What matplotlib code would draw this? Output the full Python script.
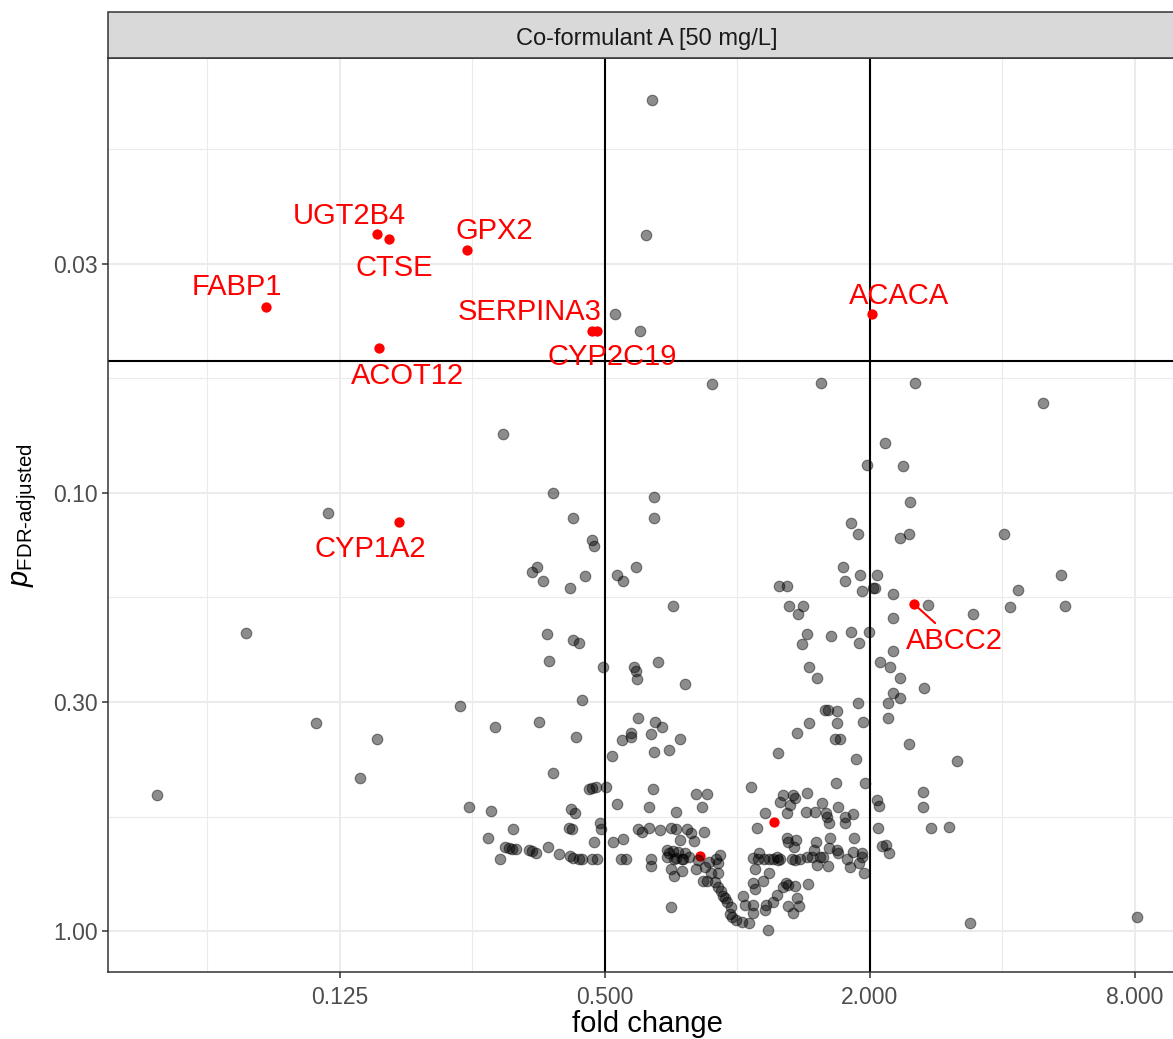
import numpy as np
import matplotlib
matplotlib.use("Agg")
import matplotlib.pyplot as plt
from matplotlib.patches import Rectangle
from matplotlib.ticker import NullFormatter

plt.rcParams['font.family'] = ['Liberation Sans', 'DejaVu Sans']
plt.rcParams['mathtext.fontset'] = 'custom'
plt.rcParams['mathtext.rm'] = 'Liberation Sans'
plt.rcParams['mathtext.it'] = 'Liberation Sans:italic'
plt.rcParams['mathtext.bf'] = 'Liberation Sans:bold'

# ---------------- data ----------------
panel_title = "Co-formulant A [50 mg/L]"
x_title = "fold change"
y_title = r"$p_{\mathrm{FDR}\text{-}\mathrm{adjusted}}$"
x_breaks = [0.125, 0.5, 2.0, 8.0]
x_labels = ["0.125", "0.500", "2.000", "8.000"]
y_breaks = [0.03, 0.10, 0.30, 1.00]
y_labels = ["0.03", "0.10", "0.30", "1.00"]
fc_cutoffs = [0.5, 2.0]
p_cutoff = 0.05

# all genes: log2(fold change) and -log10(p adjusted)
gray_log2fc = [
    -4.379, -3.707, -3.087, -3.178, -2.717, -2.846,
    -0.639, -0.685, -0.919, -0.737,
    -0.193, 0.630, 1.340, 2.308, -1.765, 1.114, 0.978, 1.250, -1.387, -0.624,
    1.303, -1.236, -0.624, 0.857, 0.910, 1.227, 1.295, 2.013, -1.093, -1.077,
    -1.546, -1.508, -1.463, -1.145, -1.259, -1.433, -1.236, -1.191,
    -0.904, -0.858, -0.760, -0.488, -1.009, -0.775, -0.760, -0.753, -0.601, -0.397,
    -0.745, -0.617, -0.571, -0.805, -0.798, -0.866, -0.647, -0.435, -0.941, -0.624, -0.518,
    -1.418, -1.168, -2.090, -1.826, -1.493, -1.214, -1.387, -1.115, -1.093, -1.062,
    -2.022, -1.856, -1.251, -1.221, -1.266, -1.244, -1.690, -1.878, -1.750, -1.720,
    -1.697, -1.667, -1.569, -1.546, -1.516, -1.425, -1.342, -1.259, -1.236, -1.191,
    -1.168, -1.093, -1.055, -1.788, -1.077, -1.032, -1.025,
    -0.987, -0.632, -0.314, -0.231, -0.904, -0.669, -0.269, -0.458, -0.745, -0.715,
    -0.669, -0.579, -0.503, -0.465, -0.375, -0.352, -0.329, -0.254, -0.428, -0.934,
    -0.858, -0.873, -0.836, -0.654, -0.647,
    -0.533, -0.518, -0.488, -0.465, -0.443, -0.420, -0.397, -0.367, -0.526, -0.473,
    -0.405, -0.496, -0.473, -0.413, -0.314, -0.239, -0.201, -0.209, -0.148, -0.141,
    -0.261, -0.224, -0.163, -0.133, -0.292,
    -0.171, -0.148, -0.125, -0.110, -0.095, -0.080, -0.050, -0.057, -0.042, -0.012,
    0.033, 0.086, -0.496,
    0.101, 0.744, 0.963, 0.524, 0.343, 0.419, 0.320, 0.396, 0.434, 0.638,
    0.759, 0.207, 0.373, 0.517, 0.585, 0.668, 0.676, 0.691, 0.812, 0.872,
    0.812, 0.147, 0.373, 0.381, 0.441, 0.426, 0.592, 0.577, 0.698, 0.691,
    0.880, 0.751, 0.759, 0.872, 0.940, 0.940, 0.162, 0.116, 0.154, 0.199,
    0.237, 0.267, 0.298, 0.305, 0.320, 0.411, 0.434, 0.471, 0.524, 0.562,
    0.623, 0.645, 0.600, 0.683, 0.827, 0.849, 0.917, 0.955, 0.131, 0.237,
    0.116, 0.192, 0.131, 0.298, 0.366, 0.381, 0.434, 0.343, 0.532, 0.041,
    0.056, 0.116, 0.116, 0.215, 0.207, 0.267, 0.381, 0.419, 0.449, 0.464,
    0.230,
    1.053, 1.068, 1.061, 1.401, 1.401, 1.461, 1.597, 1.091, 1.121, 1.144,
    0.796, 0.925, 1.053, 0.812, 0.313, 0.373, 0.940, 1.023, 1.038, 1.174,
    1.439, 0.388, 0.494, 0.456, 1.174, 0.524, 0.487, 0.706, 0.857, 0.917,
    0.993, 1.174, 1.076, 1.152, 0.539, 0.600, 1.227, 1.408, 1.174, 1.227,
    1.136, 0.910, 0.660, 0.683, 0.751, 0.539, 0.751, 0.948, 1.136, 0.449,
    0.736, 0.774, 0.305, 1.295, 0.895, 1.658,
    2.444, 2.119, 2.058, 1.779, 2.474, 1.756, 3.018,
]
gray_nlog10p = [
    0.310, 0.680, 0.954, 0.475, 0.438, 0.349,
    1.897, 1.589, 1.409, 1.368,
    1.249, 1.251, 1.251, 1.205, 1.135, 1.114, 1.064, 1.062, 1.000, 0.991,
    0.979, 0.943, 0.943, 0.931, 0.906, 0.897, 0.906, 0.906, 0.893, 0.879,
    0.820, 0.831, 0.799, 0.810, 0.783, 0.678, 0.664, 0.658,
    0.813, 0.799, 0.831, 0.742, 0.603, 0.603, 0.594, 0.575, 0.614, 0.564,
    0.486, 0.477, 0.466, 0.452, 0.443, 0.436, 0.450, 0.438, 0.400, 0.409, 0.413,
    0.616, 0.527, 0.514, 0.466, 0.477, 0.443, 0.361, 0.324, 0.326, 0.329,
    0.283, 0.274, 0.279, 0.269, 0.235, 0.233, 0.233, 0.212, 0.192, 0.189,
    0.187, 0.187, 0.185, 0.183, 0.178, 0.192, 0.176, 0.171, 0.167, 0.164,
    0.164, 0.164, 0.164, 0.164, 0.203, 0.247, 0.233,
    0.329, 0.324, 0.313, 0.313, 0.290, 0.283, 0.283, 0.272, 0.233, 0.226,
    0.235, 0.231, 0.235, 0.233, 0.233, 0.224, 0.205, 0.226, 0.208, 0.203,
    0.210, 0.164, 0.164, 0.164, 0.148,
    0.185, 0.178, 0.183, 0.167, 0.180, 0.164, 0.178, 0.169, 0.169, 0.164,
    0.164, 0.142, 0.126, 0.137, 0.142, 0.146, 0.132, 0.158, 0.155, 0.132,
    0.114, 0.114, 0.164, 0.174, 0.162,
    0.112, 0.100, 0.091, 0.080, 0.075, 0.066, 0.055, 0.039, 0.032, 0.025,
    0.021, 0.018, 0.055,
    0.329, 0.338, 0.338, 0.315, 0.311, 0.311, 0.295, 0.288, 0.304, 0.292,
    0.283, 0.269, 0.269, 0.272, 0.272, 0.269, 0.260, 0.247, 0.260, 0.267,
    0.247, 0.235, 0.212, 0.203, 0.208, 0.192, 0.203, 0.185, 0.212, 0.189,
    0.212, 0.185, 0.178, 0.180, 0.178, 0.169, 0.178, 0.167, 0.164, 0.164,
    0.164, 0.164, 0.169, 0.162, 0.164, 0.164, 0.162, 0.164, 0.169, 0.169,
    0.169, 0.169, 0.151, 0.148, 0.164, 0.146, 0.155, 0.132, 0.142, 0.132,
    0.110, 0.114, 0.096, 0.082, 0.110, 0.105, 0.103, 0.100, 0.107, 0.080,
    0.059, 0.059, 0.041, 0.059, 0.048, 0.066, 0.057, 0.041, 0.075, 0.057,
    0.002,
    0.299, 0.285, 0.235, 0.317, 0.283, 0.235, 0.237, 0.194, 0.196, 0.178,
    0.831, 0.813, 0.813, 0.799, 0.788, 0.788, 0.776, 0.783, 0.783, 0.769,
    0.744, 0.742, 0.742, 0.724, 0.715, 0.678, 0.655, 0.673, 0.683, 0.658,
    0.683, 0.639, 0.614, 0.603, 0.603, 0.578, 0.578, 0.555, 0.543, 0.532,
    0.521, 0.521, 0.505, 0.505, 0.502, 0.475, 0.475, 0.477, 0.486, 0.452,
    0.438, 0.438, 0.406, 0.427, 0.393, 0.388,
    0.813, 0.779, 0.740, 0.724, 0.742, 0.018, 0.032,
]

# highlighted genes
hl_genes = ["FABP1", "UGT2B4", "CTSE", "GPX2", "ACOT12",
            "SERPINA3", "CYP2C19", "ACACA", "CYP1A2", "ABCC2"]
hl_log2fc = [-3.556, -2.717, -2.626, -2.037, -2.702,
             -1.093, -1.055, 1.016, -2.551, 1.333]
hl_nlog10p = [1.425, 1.591, 1.578, 1.555, 1.331,
              1.370, 1.370, 1.409, 0.934, 0.747]
# highlighted genes without label
hl2_log2fc = [0.275, -0.277]
hl2_nlog10p = [0.249, 0.171]

# label placement (offset in pixels from point, y up)
label_offsets = {
    "FABP1": (-29, 19.5), "UGT2B4": (-27.5, 18), "CTSE": (5, -28.5),
    "GPX2": (27, 18.5), "ACOT12": (28, -28), "SERPINA3": (-63, 19),
    "CYP2C19": (15, -26), "ACACA": (27.5, 18), "CYP1A2": (-28.5, -27.5),
    "ABCC2": (41, -37),
}

assert len(gray_log2fc) == len(gray_nlog10p)

# ---------------- figure ----------------
W, H = 1173, 1039
fig = plt.figure(figsize=(W / 100, H / 100), dpi=100)
L, R, T, B = 108, 1186, 58, 972
ax = fig.add_axes([L / W, 1 - B / H, (R - L) / W, (B - T) / H])

g_lfc = np.array(gray_log2fc)
g_nlp = np.array(gray_nlog10p)
h_lfc = np.array(hl_log2fc)
h_nlp = np.array(hl_nlog10p)
h2_lfc = np.array(hl2_log2fc)
h2_nlp = np.array(hl2_nlog10p)

ax.set_xscale('log', base=2)
ax.set_yscale('log')


def minor_breaks(tb):
    tb = list(tb)
    b = [tb[0] - (tb[1] - tb[0])] + tb + [tb[-1] + (tb[-1] - tb[-2])]
    return [(b[i] + b[i + 1]) / 2 for i in range(len(b) - 1)]


xmin_t = minor_breaks(np.log2(x_breaks))
ymin_t = minor_breaks(-np.log10(y_breaks))
ax.set_xticks(x_breaks)
ax.set_xticklabels(x_labels)
ax.set_xticks([2 ** v for v in xmin_t], minor=True)
ax.set_yticks(y_breaks)
ax.set_yticklabels(y_labels)
ax.set_yticks([10 ** (-v) for v in ymin_t], minor=True)
ax.xaxis.set_minor_formatter(NullFormatter())
ax.yaxis.set_minor_formatter(NullFormatter())

# ggplot-like 5% expansion on the transformed scales
all_l = np.concatenate([g_lfc, h_lfc, h2_lfc])
all_n = np.concatenate([g_nlp, h_nlp, h2_nlp])
ex_l = 0.05 * (all_l.max() - all_l.min())
ex_n = 0.05 * (all_n.max() - all_n.min())
ax.set_xlim(2 ** (all_l.min() - ex_l), 2 ** (all_l.max() + ex_l))
ax.set_ylim(10 ** (-(all_n.min() - ex_n)), 10 ** (-(all_n.max() + ex_n)))

ax.grid(which='major', color='#EBEBEB', lw=1.5)
ax.grid(which='minor', color='#EBEBEB', lw=0.8)
ax.set_axisbelow(True)

ax.tick_params(which='major', length=4.3, width=1.1, color='#333333',
               labelcolor='#4D4D4D', labelsize=16.5)
ax.tick_params(axis='x', which='major', pad=6)
ax.tick_params(axis='y', which='major', pad=3)
ax.tick_params(which='minor', length=0)
for s in ax.spines.values():
    s.set_color('#333333')
    s.set_linewidth(1.1)

for v in fc_cutoffs:
    ax.axvline(v, color='black', lw=1.5, zorder=1.5)
ax.axhline(p_cutoff, color='black', lw=1.5, zorder=1.5)

# red highlighted points (under the grey layer)
ax.scatter(2 ** h_lfc, 10 ** (-h_nlp), s=55, color='#FF0000', linewidths=0, zorder=2)
ax.scatter(2 ** h2_lfc, 10 ** (-h2_nlp), s=55, color='#FF0000', linewidths=0, zorder=2)
# all genes
ax.scatter(2 ** g_lfc, 10 ** (-g_nlp), s=58, facecolor=(0, 0, 0, 0.45),
           edgecolor=(0, 0, 0, 0.45), linewidths=0.8, zorder=3)

for name, l, n in zip(hl_genes, hl_log2fc, hl_nlog10p):
    dx, dy = label_offsets[name]
    kw = {}
    if name == "ABCC2":
        kw['arrowprops'] = dict(arrowstyle='-', color='#FF0000', lw=1.5,
                                shrinkA=1, shrinkB=3)
    ax.annotate(name, (2 ** l, 10 ** (-n)), xytext=(dx, dy),
                textcoords='offset pixels', ha='center', va='center',
                color='#FF0000', fontsize=21, zorder=4, **kw)

ax.set_xlabel(x_title, fontsize=21, color='black')
ax.xaxis.set_label_coords(((L + R) / 2 - L) / (R - L), (B - 1032) / (B - T))
ax.xaxis.label.set_va('baseline')
ax.set_ylabel(y_title, fontsize=21, color='black')
ax.yaxis.set_label_coords((25 - L) / (R - L), 0.5)
ax.yaxis.label.set_va('center')

# facet strip
fig.patches.append(Rectangle((L / W, 1 - T / H), (R - L) / W, (T - 12) / H,
                             transform=fig.transFigure, facecolor='#D9D9D9',
                             edgecolor='#333333', lw=1.1, zorder=0))
fig.text((L + R) / 2 / W, 1 - 38.5 / H, panel_title, ha='center', va='center',
         fontsize=17, color='#1A1A1A')

fig.savefig("out.png", dpi=100)
